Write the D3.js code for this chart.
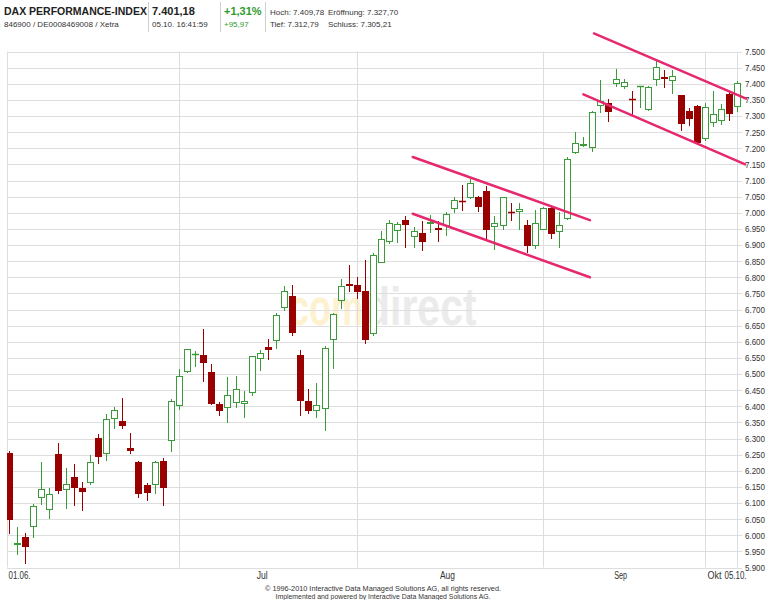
<!DOCTYPE html>
<html>
<head>
<meta charset="utf-8">
<script src="https://cdn.jsdelivr.net/npm/d3@7"></script>
<style>
  html, body { margin: 0; padding: 0; background: #fff; }
  svg { display: block; }
  .hdr { font-family: "Liberation Sans", Arial, sans-serif; fill: #222; }
  .ax { font-family: "Liberation Sans Narrow", "Arial Narrow", "Liberation Sans", sans-serif; font-size: 10px; fill: #333; }
  .foot { font-family: "Liberation Sans Narrow", "Arial Narrow", "Liberation Sans", sans-serif; font-size: 8px; fill: #333; }
</style>
</head>
<body>
<svg id="chart" width="768" height="600"></svg>
<script>
// ---- data (DAX daily candles, 01.06. - 05.10.) ----
const opens  = [6256,5970,5995,6025,6115,6079,6253,6140,6182,6145,6161,6303,6251,6360,6355,6270,6227,6155,6155,6231,
                6293,6402,6505,6558,6560,6507,6407,6395,6409,6407,6440,6547,6584,6602,6706,6742,6560,6417,6384,6391,
                6604,6726,6780,6775,6757,6625,6845,6908,6944,6979,6925,6936,6965,6952,6959,7011,7036,7045,7048,7068,
                6955,6959,7003,7003,6962,6896,6948,7014,6941,6982,7185,7208,7200,7332,7340,7400,7390,7352,7389,7320,
                7413,7420,7408,7364,7314,7332,7228,7278,7283,7369,7328];
const highs  = [6262,6027,6008,6098,6227,6145,6287,6208,6220,6165,6249,6314,6376,6399,6426,6317,6230,6163,6230,6238,
                6422,6516,6578,6571,6640,6531,6412,6490,6495,6446,6557,6575,6609,6690,6773,6775,6573,6454,6471,6588,
                6690,6796,6837,6801,6855,6874,6944,6979,6972,6990,6955,6975,6993,6975,7003,7048,7086,7104,7052,7082,
                6990,7050,7031,7029,6977,7008,7017,7021,7003,7174,7249,7235,7314,7413,7353,7446,7415,7377,7394,7394,
                7475,7442,7442,7366,7325,7335,7340,7377,7338,7373,7410];
const lows   = [6003,5940,5911,5992,6094,6051,6127,6082,6090,6075,6155,6220,6231,6331,6329,6253,6115,6106,6127,6090,
                6259,6387,6502,6523,6474,6405,6370,6347,6396,6363,6433,6509,6542,6576,6695,6619,6370,6376,6365,6324,
                6516,6702,6754,6734,6594,6619,6843,6903,6907,6892,6891,6882,6938,6910,6928,7000,7006,7042,7003,6920,
                6884,6946,6975,6946,6874,6889,6946,6920,6892,6977,7183,7203,7187,7309,7280,7390,7384,7304,7325,7314,
                7394,7387,7369,7255,7268,7211,7224,7266,7273,7283,7313];
const closes = [6047,5975,5964,6090,6143,6127,6137,6159,6148,6135,6227,6244,6360,6389,6339,6260,6127,6132,6227,6146,
                6415,6493,6576,6561,6533,6407,6384,6436,6454,6417,6555,6564,6575,6684,6757,6628,6417,6386,6404,6580,
                6687,6772,6773,6754,6604,6868,6920,6969,6965,6962,6944,6910,6972,6948,6996,7040,7032,7091,7019,6948,
                6969,7048,7000,7011,6896,6969,7014,6934,6962,7166,7216,7213,7311,7345,7311,7415,7405,7350,7393,7390,
                7452,7415,7425,7276,7291,7216,7328,7306,7322,7307,7401];

// y axis tick values
const yTicks = d3.range(5900, 7501, 50);
// vertical grid lines (candle index of month boundaries + last day)
const gridIdx = [21, 43, 66, 86, 90];
// x axis labels and the candle index they sit over
const xLabels = ["01.06.", "Jul", "Aug", "Sep", "Okt", "05.10."];
const xLabelIdx = [1.3, 31.3, 54.2, 75.6, 87.2, 89.8];
const xLabelLen = [22, 11, 15, 13, 14, 22];

// trend channel lines: [startIdx, startPrice, endIdx, endPrice]
const channelLines = [
  [49.9, 7173, 71.8, 6977],
  [49.9, 6997, 71.8, 6800],
  [72.3, 7556, 91.1, 7354],
  [71.0, 7367, 91.0, 7150]
];

// header texts
const headerName = "DAX PERFORMANCE-INDEX";
const headerIds = "846900 / DE0008469008 / Xetra";
const lastPrice = "7.401,18";
const lastTime = "05.10. 16:41:59";
const changePct = "+1,31%";
const changeAbs = "+95,97";
const statsRow1 = ["Hoch: 7.409,78", "Eröffnung: 7.327,70"];
const statsRow2 = ["Tief: 7.312,79", "Schluss: 7.305,21"];
const footer = ["© 1996-2010 Interactive Data Managed Solutions AG, all rights reserved.",
                "Implemented and powered by Interactive Data Managed Solutions AG."];
const footerLen = [236, 215];

// ---- drawing ----
const svg = d3.select("#chart");
const L = 7, R = 742, T = 51.5, B = 567.5;
const x = d3.scaleLinear().domain([-0.25, 90.6]).range([L, R]);
const y = d3.scaleLinear().domain([5900, 7500]).range([B, T]);
const GREEN = "#3b9b3b", RED = "#990000", GRID = "#dedede", PINK = "#e6286e";
const de = d3.formatLocale({decimal: ",", thousands: ".", grouping: [3], currency: ["", "€"]});
const fmt = de.format(",.0f");

// header
const hdr = svg.append("g").attr("class", "hdr");
hdr.append("text").attr("x", 4).attr("y", 15).attr("font-size", 10.5).attr("font-weight", "bold").text(headerName);
hdr.append("text").attr("x", 4).attr("y", 27).attr("font-size", 8).attr("fill", "#333").text(headerIds);
hdr.append("text").attr("x", 152).attr("y", 15).attr("font-size", 11).attr("font-weight", "bold").text(lastPrice);
hdr.append("text").attr("x", 152).attr("y", 27).attr("font-size", 8).attr("fill", "#333").text(lastTime);
hdr.append("text").attr("x", 224).attr("y", 15).attr("font-size", 11).attr("font-weight", "bold").style("fill", "#2f9a2f").text(changePct);
hdr.append("text").attr("x", 224).attr("y", 27).attr("font-size", 8).style("fill", "#2f9a2f").text(changeAbs);
[[statsRow1, 15], [statsRow2, 27]].forEach(([row, yy]) => {
  hdr.append("text").attr("x", 270).attr("y", yy).attr("font-size", 8).style("fill", "#333").text(row[0]);
  hdr.append("text").attr("x", 328).attr("y", yy).attr("font-size", 8).style("fill", "#333").text(row[1]);
});
[148.5, 220.5, 265.5].forEach(sx => {
  svg.append("line").attr("x1", sx).attr("x2", sx).attr("y1", 2).attr("y2", 32).attr("stroke", "#cfcfcf");
});

// watermark
const wm = svg.append("g").attr("font-family", "'Liberation Sans', sans-serif").attr("font-weight", "bold");
wm.append("text").attr("transform", "translate(289,325) scale(1,1.45)").attr("font-size", 36)
  .style("fill", "#fdf1cf").text("com");
wm.append("text").attr("transform", "translate(365,325) scale(1,1.3)").attr("font-size", 41)
  .style("fill", "#ebebeb").text("direct");

// grid
const grid = svg.append("g");
grid.selectAll("line.h").data(yTicks).join("line").attr("class", "h")
  .attr("x1", L).attr("x2", R).attr("y1", d => Math.round(y(d)) + 0.5).attr("y2", d => Math.round(y(d)) + 0.5)
  .attr("stroke", GRID);
grid.selectAll("line.v").data(gridIdx).join("line").attr("class", "v")
  .attr("x1", d => Math.round(x(d)) + 0.5).attr("x2", d => Math.round(x(d)) + 0.5)
  .attr("y1", y(7500)).attr("y2", y(5900)).attr("stroke", GRID);
grid.append("line").attr("x1", L + 0.5).attr("x2", L + 0.5).attr("y1", y(7500)).attr("y2", y(5900)).attr("stroke", GRID);

// y axis labels
const yAxis = d3.axisRight(y).tickValues(yTicks).tickSize(0).tickPadding(3).tickFormat(fmt);
const ya = svg.append("g").attr("transform", `translate(${R},0)`).call(yAxis);
ya.select(".domain").remove();
ya.selectAll("text").attr("class", "ax").attr("font-family", null).attr("font-size", null)
  .style("font-size", "9px").style("fill", "#333")
  .attr("textLength", 20).attr("lengthAdjust", "spacingAndGlyphs");

// x labels
svg.append("g").selectAll("text").data(xLabels).join("text").attr("class", "ax")
  .attr("x", (d, i) => x(xLabelIdx[i])).attr("y", 579).attr("text-anchor", "middle")
  .attr("textLength", (d, i) => xLabelLen[i]).attr("lengthAdjust", "spacingAndGlyphs").text(d => d);

// candles
svg.append("clipPath").attr("id", "clip").append("rect").attr("x", L).attr("y", 0).attr("width", R - L + 4).attr("height", 600);
const candles = svg.append("g").attr("clip-path", "url(#clip)");
const idx = d3.range(opens.length);
idx.forEach(i => {
  const c = Math.round(x(i));
  const up = closes[i] >= opens[i];
  const col = up ? GREEN : RED;
  const yo = y(opens[i]), yc = y(closes[i]);
  candles.append("line").attr("x1", c + 0.5).attr("x2", c + 0.5)
    .attr("y1", Math.round(y(highs[i]))).attr("y2", Math.round(y(lows[i]))).attr("stroke", col);
  const top = Math.round(Math.min(yo, yc)), bot = Math.round(Math.max(yo, yc));
  if (bot - top < 2) {
    candles.append("line").attr("x1", c - 3).attr("x2", c + 4).attr("y1", top + 0.5).attr("y2", top + 0.5)
      .attr("stroke", col).attr("stroke-width", 1.5);
  } else if (up) {
    candles.append("rect").attr("x", c - 2.5).attr("y", top + 0.5).attr("width", 6).attr("height", bot - top - 1)
      .attr("fill", "#fff").attr("stroke", col);
  } else {
    candles.append("rect").attr("x", c - 3).attr("y", top).attr("width", 7).attr("height", bot - top)
      .attr("fill", col);
  }
});

// channel lines
svg.append("g").selectAll("line").data(channelLines).join("line")
  .attr("x1", d => x(d[0])).attr("y1", d => y(d[1])).attr("x2", d => x(d[2])).attr("y2", d => y(d[3]))
  .attr("stroke", PINK).attr("stroke-width", 2.5).attr("stroke-linecap", "round");

// footer
svg.append("g").selectAll("text").data(footer).join("text").attr("class", "foot")
  .attr("x", 383).attr("y", (d, i) => 591 + i * 8).attr("text-anchor", "middle")
  .attr("textLength", (d, i) => footerLen[i]).attr("lengthAdjust", "spacingAndGlyphs").text(d => d);
</script>
</body>
</html>
